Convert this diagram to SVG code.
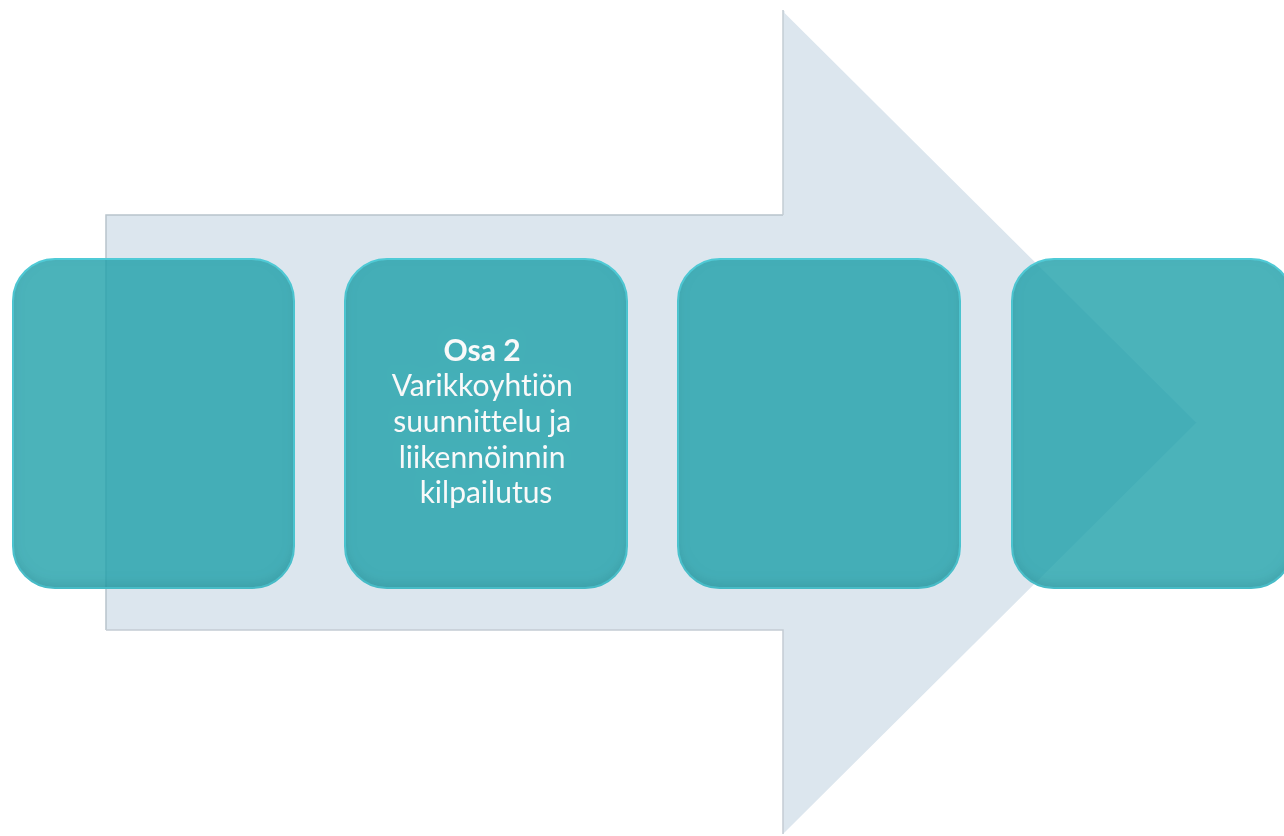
<svg xmlns="http://www.w3.org/2000/svg" width="1284" height="836" viewBox="0 0 1284 836">
  <style>
    .box { fill: rgb(40,165,175); fill-opacity: 0.8; stroke: #55d4e0; stroke-width: 2; }
    .label { font-family: Lato, "Open Sans", "Liberation Sans", sans-serif; font-size: 30px; fill: #ffffff; text-anchor: middle; font-variant-ligatures: none; font-feature-settings: "liga" 0; }
    .label .title { font-weight: bold; }
  </style>
  <defs>
    <filter id="innerShade" x="-10%" y="-10%" width="120%" height="120%">
      <feGaussianBlur in="SourceAlpha" stdDeviation="6" result="blur"/>
      <feOffset in="blur" dy="-5" result="off"/>
      <feComposite in="SourceAlpha" in2="off" operator="out" result="edge"/>
      <feFlood flood-color="#0d4f57" flood-opacity="0.35"/>
      <feComposite in2="edge" operator="in" result="shade"/>
      <feMerge>
        <feMergeNode in="SourceGraphic"/>
        <feMergeNode in="shade"/>
      </feMerge>
    </filter>
  </defs>
  <rect width="1284" height="836" fill="#ffffff"/>

  <!-- background process arrow -->
  <g id="arrow">
    <polygon points="106,215 783,215 783,10 1197,422 783,834 783,630 106,630" fill="#dce6ee"/>
    <polyline points="106,630 106,215 783,215" fill="none" stroke="#b8c4cc" stroke-width="1.5"/>
    <polyline points="783,215 783,10" fill="none" stroke="#c3ccd3" stroke-width="1.5"/>
    <line x1="785" y1="12" x2="1197" y2="422" stroke="#ffffff" stroke-width="2"/>
    <polyline points="106,630 783,630 783,834" fill="none" stroke="#c3ccd3" stroke-width="1.5"/>
  </g>

  <!-- process steps -->
  <g id="step1" filter="url(#innerShade)">
    <rect class="box" x="13" y="259" width="281" height="329" rx="42"/>
  </g>
  <g id="step2" filter="url(#innerShade)">
    <rect class="box" x="345" y="259" width="282" height="329" rx="42"/>
    <text class="label">
      <tspan class="title" x="486" y="361">Osa 2</tspan>
      <tspan x="486" y="396">Varikkoyhtiön</tspan>
      <tspan x="486" y="432">suunnittelu ja</tspan>
      <tspan x="486" y="468">liikennöinnin</tspan>
      <tspan x="486" y="503">kilpailutus</tspan>
    </text>
  </g>
  <g id="step3" filter="url(#innerShade)">
    <rect class="box" x="678" y="259" width="282" height="329" rx="42"/>
  </g>
  <g id="step4" filter="url(#innerShade)">
    <rect class="box" x="1012" y="259" width="281" height="329" rx="42"/>
  </g>
</svg>
